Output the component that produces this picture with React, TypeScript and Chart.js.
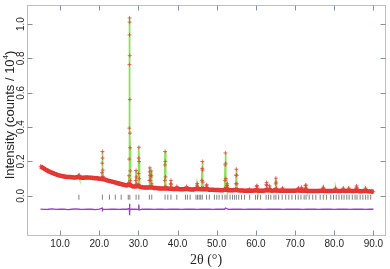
import { useEffect, useRef } from "react";
import { Chart, registerables } from "chart.js";

Chart.register(...registerables);

// ---- axes ----
const X_TICKS = [10, 20, 30, 40, 50, 60, 70, 80, 90];
const Y_TICKS = [0, 0.2, 0.4, 0.6, 0.8, 1.0];
const X_MIN = 1.55;
const X_MAX = 92.95;
const Y_MIN = -0.228;
const Y_MAX = 1.111;

// ---- observed background, sampled every 0.5° from 5° ----
const BG_START = 5;
const BG_STEP = 0.5;
const BG_INT = [
  0.172, 0.164, 0.157, 0.150, 0.144, 0.139, 0.134, 0.129, 0.125, 0.121,
  0.118, 0.115, 0.113, 0.111, 0.110, 0.109, 0.108, 0.107, 0.107, 0.109,
  0.108, 0.106, 0.106, 0.107, 0.107, 0.106, 0.105, 0.104, 0.103, 0.102,
  0.100, 0.099, 0.097, 0.094, 0.090, 0.087, 0.084, 0.081, 0.078, 0.075,
  0.072, 0.069, 0.066, 0.063, 0.061, 0.064, 0.062, 0.055, 0.054, 0.056,
  0.057, 0.052, 0.050, 0.049, 0.048, 0.048, 0.050, 0.049, 0.046, 0.045,
  0.044, 0.043, 0.043, 0.043, 0.044, 0.042, 0.041, 0.041, 0.040, 0.040,
  0.041, 0.039, 0.039, 0.038, 0.040, 0.041, 0.038, 0.037, 0.037, 0.039,
  0.041, 0.039, 0.038, 0.040, 0.038, 0.039, 0.036, 0.035, 0.035, 0.034,
  0.034, 0.034, 0.033, 0.033, 0.035, 0.036, 0.033, 0.032, 0.032, 0.034,
  0.034, 0.032, 0.031, 0.031, 0.030, 0.030, 0.031, 0.030, 0.030, 0.031,
  0.033, 0.031, 0.030, 0.030, 0.030, 0.032, 0.033, 0.032, 0.030, 0.031,
  0.033, 0.031, 0.030, 0.031, 0.030, 0.029, 0.029, 0.029, 0.029, 0.030,
  0.030, 0.031, 0.031, 0.030, 0.029, 0.031, 0.030, 0.028, 0.028, 0.028,
  0.028, 0.028, 0.028, 0.029, 0.031, 0.029, 0.028, 0.028, 0.028, 0.028,
  0.029, 0.029, 0.028, 0.028, 0.029, 0.029, 0.028, 0.029, 0.029, 0.028,
  0.028, 0.030, 0.029, 0.027, 0.027, 0.028, 0.029, 0.027, 0.026, 0.025,
  0.024,
];

// ---- observed points on the Bragg peaks ----
const PEAK_2THETA = [
  14.65, 14.75, 14.85, 14.95,
  20.62, 20.70, 20.75, 20.80, 20.85, 20.90, 20.97,
  27.50, 27.57, 27.61, 27.64, 27.67, 27.70, 27.72, 27.74, 27.76, 27.78, 27.81, 27.84, 27.87, 27.90, 27.95, 28.05,
  29.25, 29.33, 29.40, 29.47, 29.55,
  29.95, 30.02, 30.07, 30.12, 30.17, 30.23, 30.32,
  32.72, 32.80, 32.87, 32.92, 32.98, 33.06, 33.15, 33.25, 33.32, 33.40, 33.50,
  36.62, 36.70, 36.76, 36.81, 36.86, 36.92, 37.00,
  38.15, 38.24, 38.30, 38.36, 38.45,
  39.72, 39.80, 39.88,
  42.20, 42.30, 42.40,
  44.88, 44.96, 45.02, 45.10, 45.20,
  46.10, 46.20, 46.27, 46.32, 46.38, 46.45, 46.55,
  47.28, 47.36, 47.42, 47.50, 47.60,
  52.00, 52.10, 52.16, 52.21, 52.27, 52.34, 52.42,
  52.60, 52.68, 52.76,
  54.82, 54.90, 54.96, 55.01, 55.07, 55.14, 55.22,
  58.40,
  60.08, 60.18, 60.25, 60.33, 60.42,
  62.58, 62.66, 62.72, 62.80, 62.88,
  63.42, 63.50, 63.58,
  64.95, 65.03, 65.09, 65.15, 65.23,
  66.72, 66.80, 66.88,
  70.75, 70.85, 70.95,
  71.55, 71.65, 71.75,
  72.60, 72.68, 72.74, 72.82,
  77.10, 77.20, 77.30,
  80.25, 80.35, 80.45,
  82.30,
  83.70,
  85.60, 85.68, 85.76,
  88.00,
];
const PEAK_INT = [
  0.110, 0.118, 0.121, 0.112,
  0.104, 0.135, 0.190, 0.258, 0.220, 0.150, 0.112,
  0.066, 0.078, 0.117, 0.214, 0.394, 0.764, 0.937, 1.036, 1.011, 0.816, 0.561, 0.365, 0.280, 0.145, 0.090, 0.066,
  0.060, 0.090, 0.148, 0.110, 0.070,
  0.065, 0.130, 0.220, 0.283, 0.200, 0.100, 0.060,
  0.052, 0.090, 0.140, 0.163, 0.120, 0.090, 0.110, 0.145, 0.120, 0.070, 0.052,
  0.048, 0.090, 0.180, 0.258, 0.200, 0.110, 0.055,
  0.045, 0.070, 0.090, 0.068, 0.045,
  0.045, 0.055, 0.044,
  0.042, 0.055, 0.043,
  0.042, 0.062, 0.072, 0.055, 0.042,
  0.045, 0.090, 0.160, 0.200, 0.150, 0.080, 0.045,
  0.042, 0.058, 0.065, 0.050, 0.040,
  0.040, 0.090, 0.180, 0.250, 0.190, 0.100, 0.050,
  0.060, 0.070, 0.050,
  0.038, 0.070, 0.120, 0.155, 0.120, 0.070, 0.038,
  0.038,
  0.036, 0.055, 0.060, 0.045, 0.034,
  0.038, 0.065, 0.078, 0.060, 0.040,
  0.045, 0.058, 0.042,
  0.038, 0.070, 0.103, 0.080, 0.045,
  0.038, 0.046, 0.037,
  0.040, 0.046, 0.038,
  0.042, 0.050, 0.040,
  0.045, 0.060, 0.063, 0.046,
  0.040, 0.050, 0.040,
  0.038, 0.045, 0.036,
  0.045,
  0.045,
  0.045, 0.058, 0.047,
  0.045,
];

// ---- difference curve (obs - calc, offset), every 1° from 5° ----
const DIFF_START = 5;
const DIFF_STEP = 1;
const DIFF_BASE = [
  -0.077, -0.079, -0.078, -0.076, -0.079, -0.078, -0.077, -0.080, -0.078, -0.076,
  -0.078, -0.079, -0.077, -0.078, -0.080, -0.077, -0.078, -0.079, -0.077, -0.078,
  -0.079, -0.077, -0.078, -0.078, -0.077, -0.079, -0.078, -0.077, -0.078, -0.079,
  -0.078, -0.077, -0.079, -0.078, -0.078, -0.077, -0.079, -0.078, -0.077, -0.078,
  -0.079, -0.078, -0.077, -0.078, -0.079, -0.078, -0.077, -0.078, -0.079, -0.078,
  -0.077, -0.078, -0.079, -0.078, -0.077, -0.078, -0.078, -0.079, -0.077, -0.078,
  -0.078, -0.077, -0.079, -0.078, -0.078, -0.077, -0.078, -0.079, -0.078, -0.077,
  -0.078, -0.079, -0.077, -0.078, -0.078, -0.079, -0.077, -0.078, -0.078, -0.079,
  -0.077, -0.078, -0.078, -0.079, -0.078, -0.078,
];
const DIFF_SPIKE_2THETA = [20.78, 20.84, 27.66, 27.70, 27.74, 27.78, 27.82, 30.06, 30.12, 30.18, 52.2];
const DIFF_SPIKE_INT = [-0.072, -0.084, -0.074, -0.046, -0.113, -0.062, -0.086, -0.074, -0.05, -0.082, -0.071];

// ---- Bragg reflection positions ----
const BRAGG_2THETA = [
  14.8, 20.8, 22.6, 24.1, 25.6, 27.4, 27.8, 29.4, 30.1, 32.8, 33.4, 36.8, 37.5, 38.3, 39.8,
  42.0, 42.5, 43.2, 44.7, 45.1, 45.5, 45.9, 46.3, 47.4, 48.1, 49.4, 50.0, 50.6, 51.4, 52.1,
  52.6, 53.4, 54.0, 54.5, 55.0, 55.6, 56.3, 57.1, 58.4, 59.9, 60.4, 61.2, 62.6, 63.2, 63.8,
  64.6, 65.1, 65.8, 66.7, 67.6, 68.4, 69.2, 70.1, 70.8, 71.5, 72.3, 72.8, 73.6, 74.5, 75.3,
  76.4, 77.2, 78.0, 79.1, 79.8, 80.5, 81.2, 81.9, 82.5, 83.2, 83.8, 84.6, 85.3, 85.8, 86.6,
  87.3, 88.0, 88.6, 89.3,
];
const BRAGG_LEVEL = -0.008;

const Y_TITLE_MAIN = "Intensity (counts / 10";
const Y_TITLE_SUP = "4";
const Y_TITLE_END = ")";
const X_TITLE = "2θ (°)";

const RED = "rgba(226, 28, 22, 0.9)";
const RED_PALE = "rgba(232, 60, 60, 0.75)";
const GREEN = "#8ee05a";
const PURPLE = "#9b3dca";
const BRAGG_COLOR = "#808080";
const FRAME_COLOR = "#b9c0c4";
const TICK_COLOR = "#84939a";
const TEXT_COLOR = "#262626";

type P = { x: number; y: number };

function mergeSorted(a: P[], b: P[]): P[] {
  return [...a, ...b].sort((p, q) => p.x - q.x);
}

function buildBackground(): P[] {
  return BG_INT.map((y, i) => ({ x: BG_START + i * BG_STEP, y }));
}

function buildObserved(): P[] {
  const pk = PEAK_2THETA.map((x, i) => ({ x, y: PEAK_INT[i] }));
  return mergeSorted(buildBackground(), pk);
}

function buildDiff(): P[] {
  const base = DIFF_BASE.map((y, i) => ({ x: DIFF_START + i * DIFF_STEP, y }));
  const sp = DIFF_SPIKE_2THETA.map((x, i) => ({ x, y: DIFF_SPIKE_INT[i] }));
  return mergeSorted(base, sp);
}

const framePlugin = {
  id: "rframe",
  afterDatasetsDraw(chart: any) {
    const { ctx, chartArea: a, scales } = chart;
    const xs = scales.x;
    const ys = scales.y;
    const TL = 5;
    ctx.save();
    ctx.strokeStyle = FRAME_COLOR;
    ctx.lineWidth = 1;
    ctx.strokeRect(a.left + 0.5, a.top + 0.5, a.right - a.left, a.bottom - a.top);
    ctx.strokeStyle = TICK_COLOR;
    ctx.beginPath();
    for (const v of X_TICKS) {
      const px = Math.round(xs.getPixelForValue(v)) + 0.5;
      ctx.moveTo(px, a.bottom + 0.5);
      ctx.lineTo(px, a.bottom + 0.5 - TL);
      ctx.moveTo(px, a.top + 0.5);
      ctx.lineTo(px, a.top + 0.5 + TL);
    }
    for (const v of Y_TICKS) {
      const py = Math.round(ys.getPixelForValue(v)) + 0.5;
      ctx.moveTo(a.left + 0.5, py);
      ctx.lineTo(a.left + 0.5 + TL, py);
      ctx.moveTo(a.right + 0.5, py);
      ctx.lineTo(a.right + 0.5 - TL, py);
    }
    ctx.stroke();

    ctx.fillStyle = TEXT_COLOR;
    ctx.font = '10px "Liberation Sans", Arial, sans-serif';
    ctx.textAlign = "center";
    ctx.textBaseline = "middle";
    for (const v of X_TICKS) {
      const px = xs.getPixelForValue(v);
      ctx.fillText(v.toFixed(1), px, a.bottom + 9);
    }
    for (const v of Y_TICKS) {
      const py = ys.getPixelForValue(v);
      ctx.save();
      ctx.translate(a.left - 6, py);
      ctx.rotate(-Math.PI / 2);
      ctx.fillText(v.toFixed(1), 0, 0);
      ctx.restore();
    }

    ctx.font = '14px "Liberation Serif", "Times New Roman", serif';
    ctx.fillText(X_TITLE, (a.left + a.right) / 2, a.bottom + 25);

    const mainFont = '13px "Liberation Sans", Arial, sans-serif';
    const supFont = '8px "Liberation Sans", Arial, sans-serif';
    ctx.font = mainFont;
    const w1 = ctx.measureText(Y_TITLE_MAIN).width;
    const w3 = ctx.measureText(Y_TITLE_END).width;
    ctx.font = supFont;
    const w2 = ctx.measureText(Y_TITLE_SUP).width;
    const total = w1 + w2 + w3;
    ctx.save();
    ctx.translate(10, 115);
    ctx.rotate(-Math.PI / 2);
    ctx.textAlign = "left";
    ctx.textBaseline = "middle";
    let cx = -total / 2;
    ctx.font = mainFont;
    ctx.fillText(Y_TITLE_MAIN, cx, 0);
    cx += w1;
    ctx.font = supFont;
    ctx.fillText(Y_TITLE_SUP, cx, -4);
    cx += w2;
    ctx.font = mainFont;
    ctx.fillText(Y_TITLE_END, cx, 0);
    ctx.restore();

    ctx.restore();
  },
};

export default function App() {
  const ref = useRef<HTMLCanvasElement | null>(null);

  useEffect(() => {
    if (!ref.current) return;
    const observed = buildObserved();
    const background = buildBackground();
    const diff = buildDiff();
    const bragg = BRAGG_2THETA.map((x) => ({ x, y: BRAGG_LEVEL }));

    const chart = new Chart(ref.current, {
      type: "scatter",
      data: {
        datasets: [
          {
            label: "obs",
            data: observed,
            showLine: false,
            pointStyle: "cross",
            pointRadius: 2,
            borderColor: RED_PALE,
            backgroundColor: RED_PALE,
            borderWidth: 1,
          },
          {
            label: "obs band",
            data: background,
            showLine: true,
            borderColor: RED,
            borderWidth: 4.5,
            pointRadius: 0,
          },
          {
            label: "calc",
            data: observed,
            showLine: true,
            borderColor: GREEN,
            borderWidth: 1.8,
            pointRadius: 0,
          },
          {
            label: "diff",
            data: diff,
            showLine: true,
            borderColor: PURPLE,
            borderWidth: 1.3,
            pointRadius: 0,
          },
          {
            label: "bragg",
            data: bragg,
            showLine: false,
            pointStyle: "line",
            rotation: 90,
            pointRadius: 2.5,
            borderColor: BRAGG_COLOR,
            borderWidth: 1,
          },
        ],
      } as any,
      options: {
        animation: false,
        responsive: true,
        maintainAspectRatio: false,
        events: [],
        layout: { padding: { left: 27, right: 4, top: 2, bottom: 34 } },
        scales: {
          x: { type: "linear", min: X_MIN, max: X_MAX, display: false },
          y: { type: "linear", min: Y_MIN, max: Y_MAX, display: false },
        },
        plugins: { legend: { display: false }, tooltip: { enabled: false } },
      },
      plugins: [framePlugin],
    });
    return () => chart.destroy();
  }, []);

  return (
    <div style={{ position: "fixed", left: 0, top: 0, width: 390, height: 269, background: "#fff" }}>
      <canvas ref={ref} />
    </div>
  );
}
